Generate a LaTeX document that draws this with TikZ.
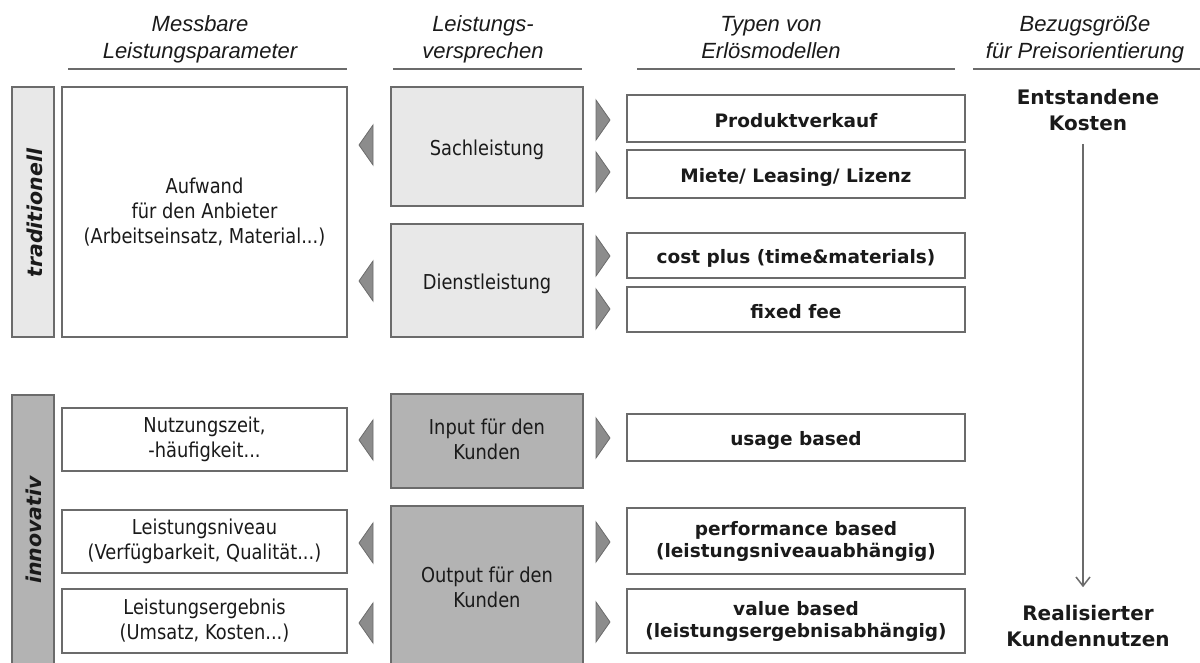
\documentclass[tikz,border=0pt]{standalone}
\usepackage{fontspec}
\setmainfont{DejaVu Sans}
\newfontfamily\bodyfont{DejaVu Sans}[FakeStretch=0.87]
\newfontfamily\hdrfont{Liberation Sans}
\usetikzlibrary{arrows.meta}
\definecolor{bd}{HTML}{6B6B6B}
\definecolor{lg}{HTML}{E8E8E8}
\definecolor{dg}{HTML}{B3B3B3}
\definecolor{tg}{HTML}{8C8C8C}
\definecolor{tx}{HTML}{1A1A1A}
\begin{document}
\begin{tikzpicture}[x=1pt,y=-1pt,
  frame/.style={draw=bd,line width=1.8pt,align=center,inner sep=0pt,text=tx},
  body/.style={frame,font=\bodyfont\fontsize{20.5}{25}\selectfont,
    execute at begin node={\rule{0pt}{22pt}},
    execute at end node={\rule[-3pt]{0pt}{3pt}}},
  wbox/.style={body,fill=white},
  lbox/.style={body,fill=lg},
  dbox/.style={body,fill=dg},
  rbox/.style={frame,fill=white,font=\fontsize{18.5}{22}\selectfont\bfseries,
    minimum width=338pt,
    execute at begin node={\rule{0pt}{20pt}},
    execute at end node={\rule[-2pt]{0pt}{2pt}}},
  sidebar/.style={draw=bd,line width=1.8pt,inner sep=0pt},
  barlabel/.style={rotate=90,font=\fontsize{20.5}{24}\selectfont\bfseries\itshape,text=tx},
  hdr/.style={font=\hdrfont\fontsize{22}{27}\selectfont\itshape,align=center,text=tx,
    inner sep=0pt,execute at begin node=\strut,execute at end node=\strut},
  hline/.style={draw=bd,line width=1.8pt},
  tri/.style={fill=tg,draw=bd,line width=0.8pt,line join=miter},
  endlabel/.style={font=\fontsize{20}{26}\selectfont\bfseries,align=center,text=tx,
    inner sep=0pt,
    execute at begin node={\rule{0pt}{20pt}},
    execute at end node={\rule[-2pt]{0pt}{2pt}}},
  arr/.style={draw=bd,line width=1.5pt,-{Straight Barb[length=9pt,width=14pt]}}]
\useasboundingbox (0,0) rectangle (1200,663);
\clip (0,0) rectangle (1200,663);

% headers
\node[hdr] (h1) at (200,41) {Messbare\\Leistungsparameter};
\node[hdr] (h2) at (483,41) {Leistungs-\\versprechen};
\node[hdr] (h3) at (771,41) {Typen von\\Erlösmodellen};
\node[hdr] (h4) at (1085,41) {Bezugsgröße\\für Preisorientierung};
\draw[hline] (68,69) -- (347,69);
\draw[hline] (393,69) -- (582,69);
\draw[hline] (637,69) -- (955,69);
\draw[hline] (973,69) -- (1200,69);

% side bars
\node[sidebar,fill=lg,minimum width=42pt,minimum height=250pt] (trad) at (33,212) {};
\node[barlabel] at (35,213) {traditionell};
\node[sidebar,fill=dg,minimum width=42pt,minimum height=290pt] (inno) at (33,540) {};
\node[barlabel] at (34,530) {innovativ};

% left column
\node[wbox,minimum width=285pt,minimum height=250pt] (aufw) at (204.5,212)
  {Aufwand\\für den Anbieter\\(Arbeitseinsatz, Material...)};
\node[wbox,minimum width=285pt,minimum height=63pt] (nutz) at (204.5,439.5)
  {Nutzungszeit,\\-häufigkeit...};
\node[wbox,minimum width=285pt,minimum height=63pt] (niv) at (204.5,541.5)
  {Leistungsniveau\\(Verfügbarkeit, Qualität...)};
\node[wbox,minimum width=285pt,minimum height=64pt] (erg) at (204.5,621)
  {Leistungsergebnis\\(Umsatz, Kosten...)};

% middle column
\node[lbox,minimum width=192pt,minimum height=119pt] (sach) at (487,146.5) {Sachleistung};
\node[lbox,minimum width=192pt,minimum height=113pt] (dienst) at (487,280.5) {Dienstleistung};
\node[dbox,minimum width=192pt,minimum height=94pt] (input) at (487,441) {Input für den\\Kunden};
\node[dbox,minimum width=192pt,minimum height=166pt] (output) at (487,589) {Output für den\\Kunden};

% right column
\node[rbox,minimum height=47pt] (prod) at (796,118.5) {Produktverkauf};
\node[rbox,minimum height=48pt] (miete) at (796,174) {Miete/ Leasing/ Lizenz};
\node[rbox,minimum height=45pt] (cost) at (796,255.5) {cost plus (time\&materials)};
\node[rbox,minimum height=45pt] (fixed) at (796,309.5) {fixed fee};
\node[rbox,minimum height=47pt] (usage) at (796,437.5) {usage based};
\node[rbox,minimum height=66pt] (perf) at (796,541) {performance based\\(leistungsniveauabhängig)};
\node[rbox,minimum height=64pt] (value) at (796,621) {value based\\(leistungsergebnisabhängig)};

% left-pointing triangles
\foreach \c in {145,281,440,543,623}
  \draw[tri] (373,\c-20) -- (373,\c+20) -- (359,\c) -- cycle;
% right-pointing triangles
\foreach \c in {120,172,256,309,438,542,622}
  \draw[tri] (596,\c-20) -- (596,\c+20) -- (610,\c) -- cycle;

% price orientation
\node[endlabel] (ek) at (1088,111) {Entstandene\\Kosten};
\node[endlabel] (rk) at (1088,627) {Realisierter\\Kundennutzen};
\draw[arr,shorten <=11pt,shorten >=18pt] ([xshift=-5pt]ek.south) -- ([xshift=-5pt]rk.north);
\end{tikzpicture}
\end{document}
